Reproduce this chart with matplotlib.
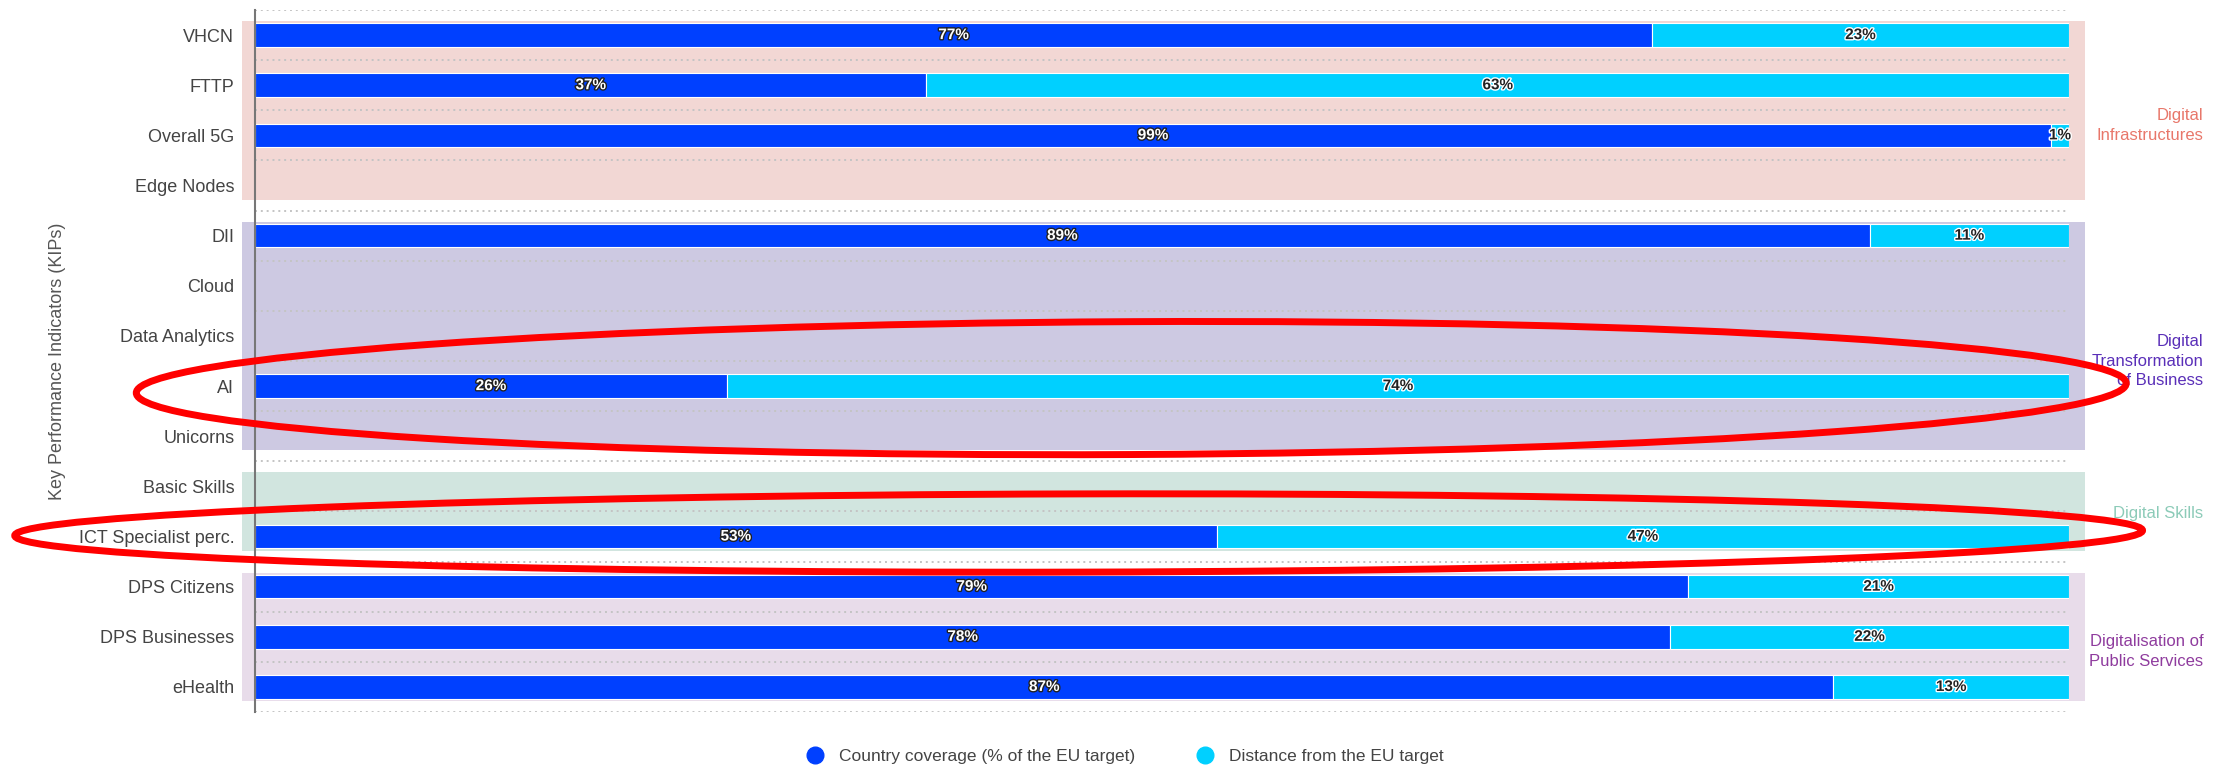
import matplotlib.pyplot as plt
import matplotlib.patheffects as pe
from matplotlib.patches import Ellipse
from matplotlib.lines import Line2D

plt.rcParams['font.family'] = ['Liberation Sans', 'DejaVu Sans']

kpis = ["VHCN", "FTTP", "Overall 5G", "Edge Nodes", "DII", "Cloud", "Data Analytics",
        "AI", "Unicorns", "Basic Skills", "ICT Specialist perc.", "DPS Citizens",
        "DPS Businesses", "eHealth"]
coverage = [77, 37, 99, None, 89, None, None, 26, None, None, 53, 79, 78, 87]
distance = [23, 63, 1, None, 11, None, None, 74, None, None, 47, 21, 22, 13]

groups = ["Digital\nInfrastructures", "Digital\nTransformation\nof Business",
          "Digital Skills", "Digitalisation of\nPublic Services"]
group_rows = [(0, 3), (4, 8), (9, 10), (11, 13)]
group_bg = ["#f2d7d4", "#cdc9e2", "#d1e5df", "#e8dcea"]
group_fg = ["#e8776a", "#5a2fb8", "#8ccbb8", "#8f3c9e"]
group_label_pos = [1.8, 6.5, 9.55, 12.3]

highlight = ["AI", "ICT Specialist perc."]

BLUE = "#0040ff"
CYAN = "#00d0ff"

fig = plt.figure(figsize=(22.26, 7.7), dpi=100)
ax = fig.add_axes([0.1146, 0.0753, 0.8149, 0.9117])

# group background bands
for (r0, r1), bg in zip(group_rows, group_bg):
    ax.fill_between([-0.72, 100.9], r0 - 0.28, r1 + 0.28, color=bg, lw=0,
                    zorder=0, clip_on=False)

# dotted row separators
for k in range(len(kpis) + 1):
    ax.axhline(k - 0.5, color="#c4c4c4", lw=1.4, ls=(0, (1, 2)), zorder=1)

ypos = list(range(len(kpis)))
for i, (c, d) in enumerate(zip(coverage, distance)):
    if c is None:
        continue
    ax.barh(i, c, height=0.47, color=BLUE, edgecolor="white", lw=0.8, zorder=2)
    ax.barh(i, d, left=c, height=0.47, color=CYAN, edgecolor="white", lw=0.8, zorder=2)
    ax.text(c / 2, i, f"{c}%", ha="center", va="center", fontsize=11, fontweight="bold",
            color="white", zorder=3,
            path_effects=[pe.withStroke(linewidth=2, foreground="#222222")])
    ax.text(c + d / 2, i, f"{d}%", ha="center", va="center", fontsize=11,
            fontweight="bold", color="#222222", zorder=3,
            path_effects=[pe.withStroke(linewidth=2, foreground="white")])

ax.set_xlim(0, 100)
ax.set_ylim(len(kpis) - 0.5, -0.5)
ax.set_yticks(ypos)
ax.set_yticklabels(kpis, fontsize=13, color="#444444")
ax.tick_params(axis="y", length=0, pad=15)
ax.set_xticks([])
for s in ["top", "right", "bottom"]:
    ax.spines[s].set_visible(False)
ax.spines["left"].set_color("#777777")
ax.spines["left"].set_linewidth(1.5)
ax.set_ylabel("Key Performance Indicators (KIPs)", fontsize=13, color="#555555")
ax.yaxis.set_label_coords(-0.104, 0.5)

# group labels on the right
for name, fg, yp in zip(groups, group_fg, group_label_pos):
    ax.text(107.4, yp, name, ha="right", va="center", fontsize=12, color=fg,
            linespacing=1.4, clip_on=False)

# red highlight ellipses
ai_row = kpis.index(highlight[0])
ict_row = kpis.index(highlight[1])
ax.add_patch(Ellipse((48.3, ai_row + 0.04), 109.7, 2.65, angle=-0.1, fill=False,
                     ec="#ff0000", lw=5, zorder=5, clip_on=False))
ax.add_patch(Ellipse((45.4, ict_row - 0.07), 117.3, 1.56, angle=-0.05, fill=False,
                     ec="#ff0000", lw=5, zorder=5, clip_on=False))

handles = [Line2D([], [], marker="o", ls="", ms=12, color=BLUE),
           Line2D([], [], marker="o", ls="", ms=12, color=CYAN)]
fig.legend(handles, ["Country coverage (% of the EU target)", "Distance from the EU target"],
           loc="center", bbox_to_anchor=(0.5035, 0.017), ncol=2, frameon=False,
           fontsize=12.5, handletextpad=0.4, columnspacing=3, labelcolor="#444444")

fig.savefig("out.png", dpi=100)
